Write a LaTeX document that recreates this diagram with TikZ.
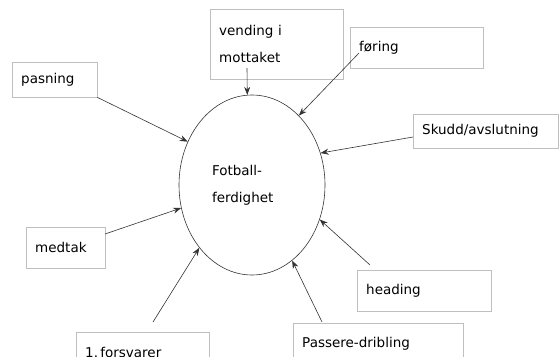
\documentclass[tikz,border=0pt]{standalone}
\usepackage{fontspec}
\setmainfont{DejaVu Sans}
\usetikzlibrary{shapes.geometric, arrows.meta}

\begin{document}
\begin{tikzpicture}[x=1pt, y=-1pt, font=\fontsize{13.5}{27}\selectfont,
    box/.style={draw=black!25, rectangle, anchor=north west, align=left, inner xsep=9pt, inner ysep=0pt},
    pil/.style={-{Stealth[length=8pt, width=6pt]}, draw=black!80, semithick}]
    \useasboundingbox (0,0) rectangle (559,356);
    \clip (0,0) rectangle (559,356);

    \node[ellipse, draw=black!80, semithick, minimum width=146pt, minimum height=180pt, text width=80pt, align=left] (ferd) at (252,185) {Fotball-\\ferdighet};

    \node[box, text width=67pt, minimum height=35pt] (pasning) at (12,62) {pasning};
    \node[box, text width=115pt, minimum height=70pt] (vending) at (210,9) {vending i\\mottaket};
    \node[box, text width=115pt, minimum height=41pt] (foering) at (350,27) {føring};
    \node[box, text width=127pt, minimum height=34pt] (skudd) at (413,114) {Skudd/avslutning};
    \node[box, text width=61pt, minimum height=41pt] (medtak) at (26,227) {medtak};
    \node[box, text width=115pt, minimum height=41pt] (forsvarer) at (76,332) {1.\,forsvarer};
    \node[box, text width=116pt, minimum height=41pt] (heading) at (357,270) {heading};
    \node[box, text width=152pt, minimum height=41pt] (passere) at (293,323) {Passere-dribling};

    % start points of the arrows
    \coordinate (v1) at (247,68);
    \coordinate (f1) at (359,53);
    \coordinate (s1) at (413,137);
    \coordinate (m1) at (105,234);
    \coordinate (d1) at (153,322);
    \coordinate (h1) at (370,265);
    \coordinate (p1) at (322,322);

    \draw[pil] (pasning.south east) -- (ferd.146);
    \draw[pil] (v1) -- (ferd.93);
    \draw[pil] (f1) -- (ferd.56);
    \draw[pil] (s1) -- (ferd.25);
    \draw[pil] (m1) -- (ferd.198);
    \draw[pil] (d1) -- (ferd.230);
    \draw[pil] (h1) -- (ferd.333);
    \draw[pil] (p1) -- (ferd.298);
\end{tikzpicture}
\end{document}
